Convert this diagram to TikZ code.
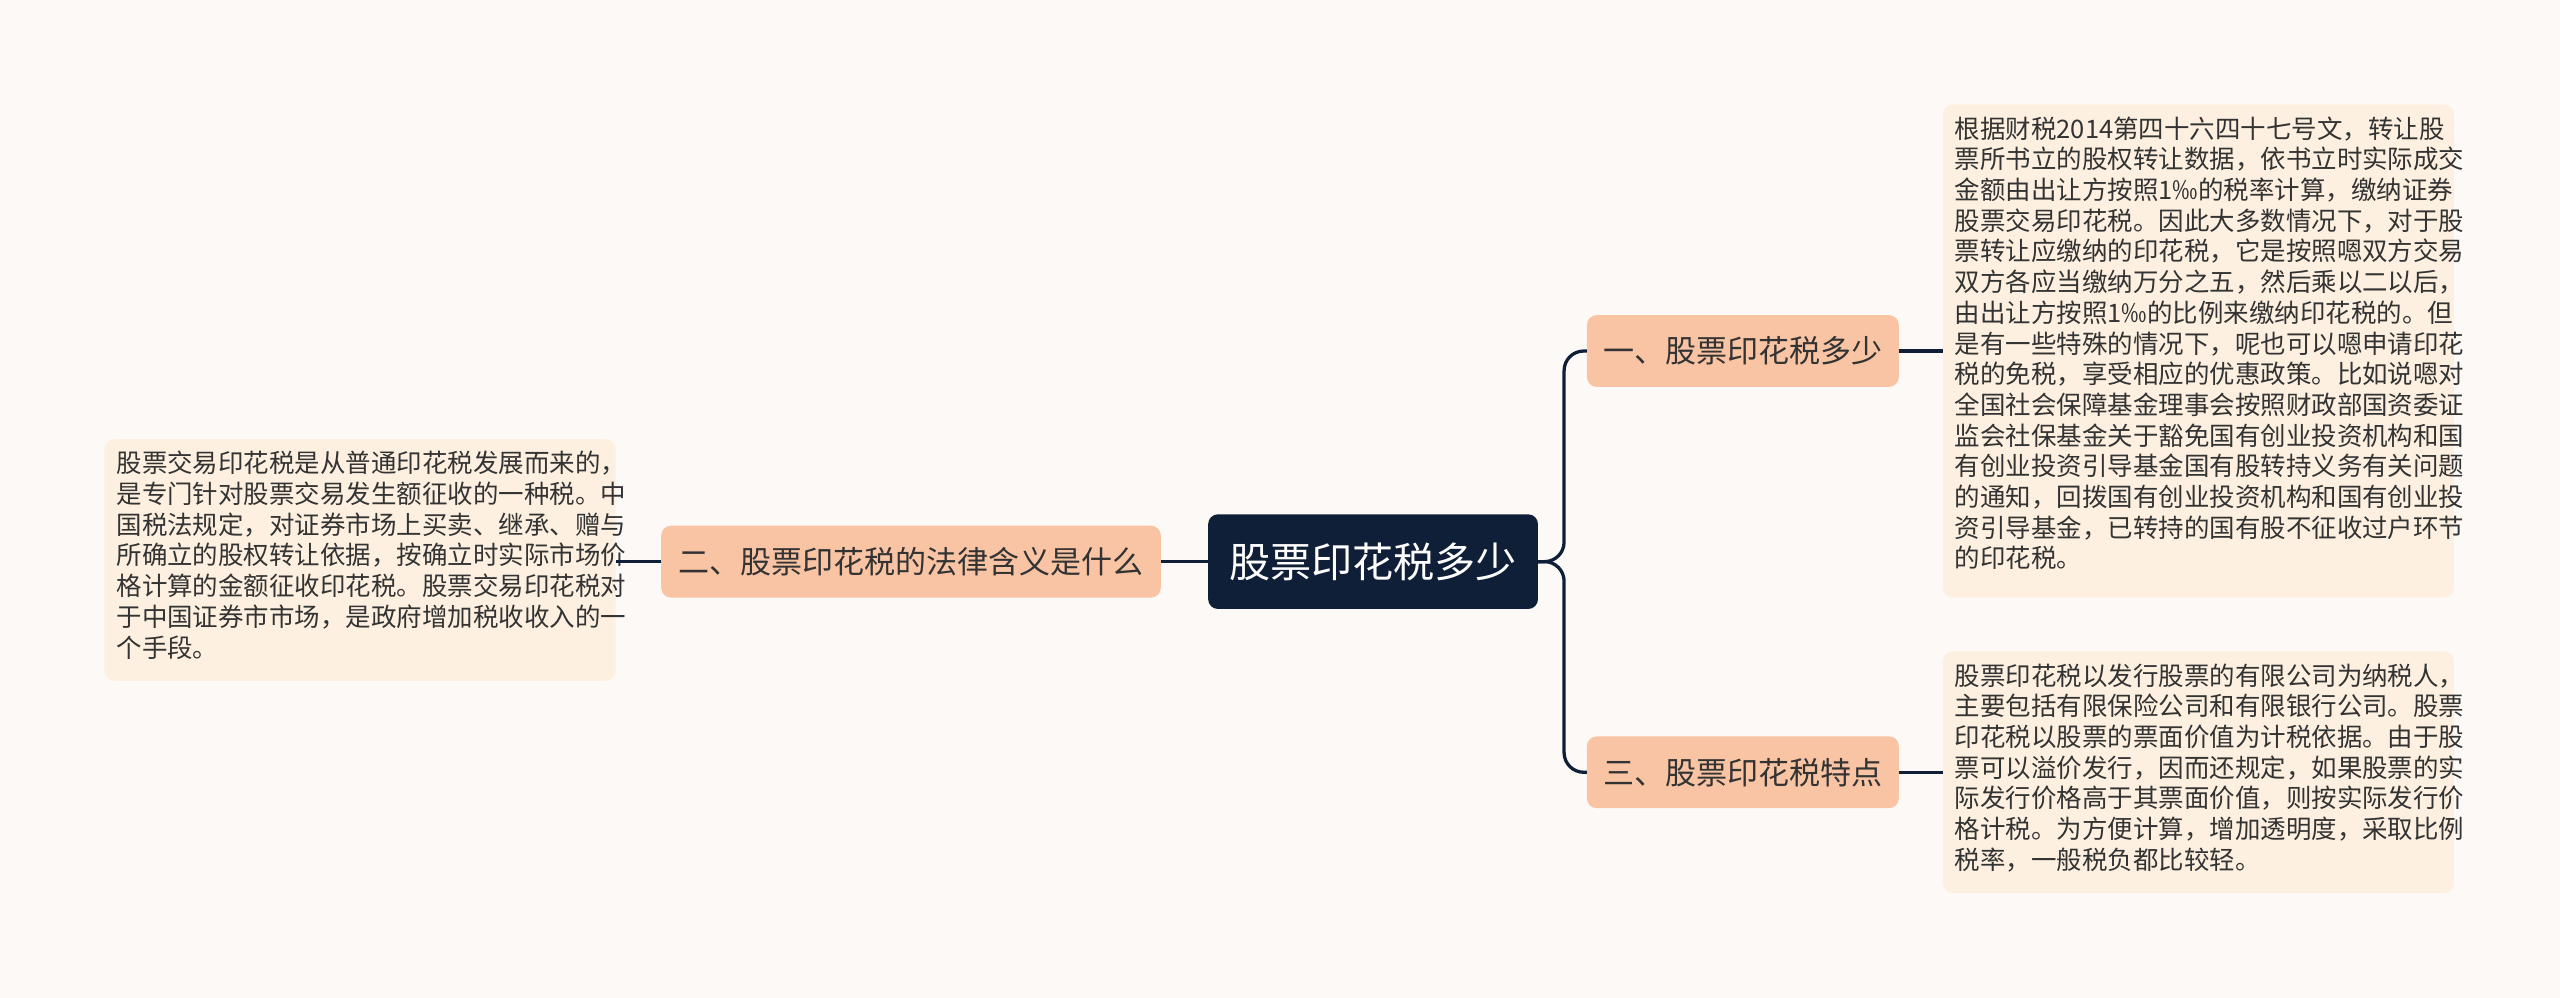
\documentclass[tikz,border=0pt]{standalone}
\usepackage{fontspec}
\setmainfont{Noto Sans CJK SC}
\definecolor{bg}{HTML}{FDF9F7}
\definecolor{navy}{HTML}{0F1F38}
\definecolor{peach}{HTML}{F9C4A4}
\definecolor{leaf}{HTML}{FDF0E0}
\definecolor{txt}{HTML}{333333}
\begin{document}
\begin{tikzpicture}[x=0.5pt,y=-0.5pt,
  box/.style={rounded corners=2.5pt,inner sep=0pt,anchor=north west},
  leaftext/.style={font=\fontsize{7.8pt}{9.4pt}\selectfont,text=txt,align=left,anchor=north west,inner sep=0pt},
  conn/.style={draw=navy,line width=1pt}]
\fill[bg] (0,0) rectangle (1568,611);
\useasboundingbox (0,0) rectangle (1568,611);
% center
\fill[navy,rounded corners=3pt] (740,315) rectangle (942,373);
\node[text=white,font=\fontsize{12.6pt}{14pt}\selectfont] (c) at (841,344) {股票印花税多少};
\coordinate (cl) at (740,344); \coordinate (cr) at (942,344);
% left branch
\fill[peach,rounded corners=3pt] (405,322) rectangle (711,366);
\node[text=txt,font=\fontsize{9.5pt}{11pt}\selectfont] (b2) at (558,344) {二、股票印花税的法律含义是什么};
\coordinate (b2l) at (405,344); \coordinate (b2r) at (711,344);
\fill[leaf,rounded corners=3pt] (64,269) rectangle (377,417);
\node[leaftext] (l2) at (71,276) {股票交易印花税是从普通印花税发展而来的，\\是专门针对股票交易发生额征收的一种税。中\\国税法规定，对证券市场上买卖、继承、赠与\\所确立的股权转让依据，按确立时实际市场价\\格计算的金额征收印花税。股票交易印花税对\\于中国证券市市场，是政府增加税收收入的一\\个手段。};
\coordinate (l2r) at (377,344);
% right branch 1
\fill[peach,rounded corners=3pt] (972,193) rectangle (1163,237);
\node[text=txt,font=\fontsize{9.5pt}{11pt}\selectfont] (b1) at (1067.5,215) {一、股票印花税多少};
\coordinate (b1l) at (972,215); \coordinate (b1r) at (1163,215);
\fill[leaf,rounded corners=3pt] (1190,64) rectangle (1503,366);
\node[leaftext] (l1) at (1197,71) {根据财税2014第四十六四十七号文，转让股\\票所书立的股权转让数据，依书立时实际成交\\金额由出让方按照1‰的税率计算，缴纳证券\\股票交易印花税。因此大多数情况下，对于股\\票转让应缴纳的印花税，它是按照嗯双方交易\\双方各应当缴纳万分之五，然后乘以二以后，\\由出让方按照1‰的比例来缴纳印花税的。但\\是有一些特殊的情况下，呢也可以嗯申请印花\\税的免税，享受相应的优惠政策。比如说嗯对\\全国社会保障基金理事会按照财政部国资委证\\监会社保基金关于豁免国有创业投资机构和国\\有创业投资引导基金国有股转持义务有关问题\\的通知，回拨国有创业投资机构和国有创业投\\资引导基金，已转持的国有股不征收过户环节\\的印花税。};
\coordinate (l1l) at (1190,215);
% right branch 3
\fill[peach,rounded corners=3pt] (972,451) rectangle (1163,495);
\node[text=txt,font=\fontsize{9.5pt}{11pt}\selectfont] (b3) at (1067.5,473) {三、股票印花税特点};
\coordinate (b3l) at (972,473); \coordinate (b3r) at (1163,473);
\fill[leaf,rounded corners=3pt] (1190,399) rectangle (1503,547);
\node[leaftext] (l3) at (1197,406) {股票印花税以发行股票的有限公司为纳税人，\\主要包括有限保险公司和有限银行公司。股票\\印花税以股票的票面价值为计税依据。由于股\\票可以溢价发行，因而还规定，如果股票的实\\际发行价格高于其票面价值，则按实际发行价\\格计税。为方便计算，增加透明度，采取比例\\税率，一般税负都比较轻。};
\coordinate (l3l) at (1190,473);
% connectors
\draw[conn] (cl) -- (b2r);
\draw[conn] (b2l) -- (l2r);
\draw[conn,rounded corners=6pt] (cr) -- (958,344) |- (b1l);
\draw[conn,rounded corners=6pt] (cr) -- (958,344) |- (b3l);
\draw[conn] (b1r) -- (l1l);
\draw[conn] (b3r) -- (l3l);
\end{tikzpicture}
\end{document}
